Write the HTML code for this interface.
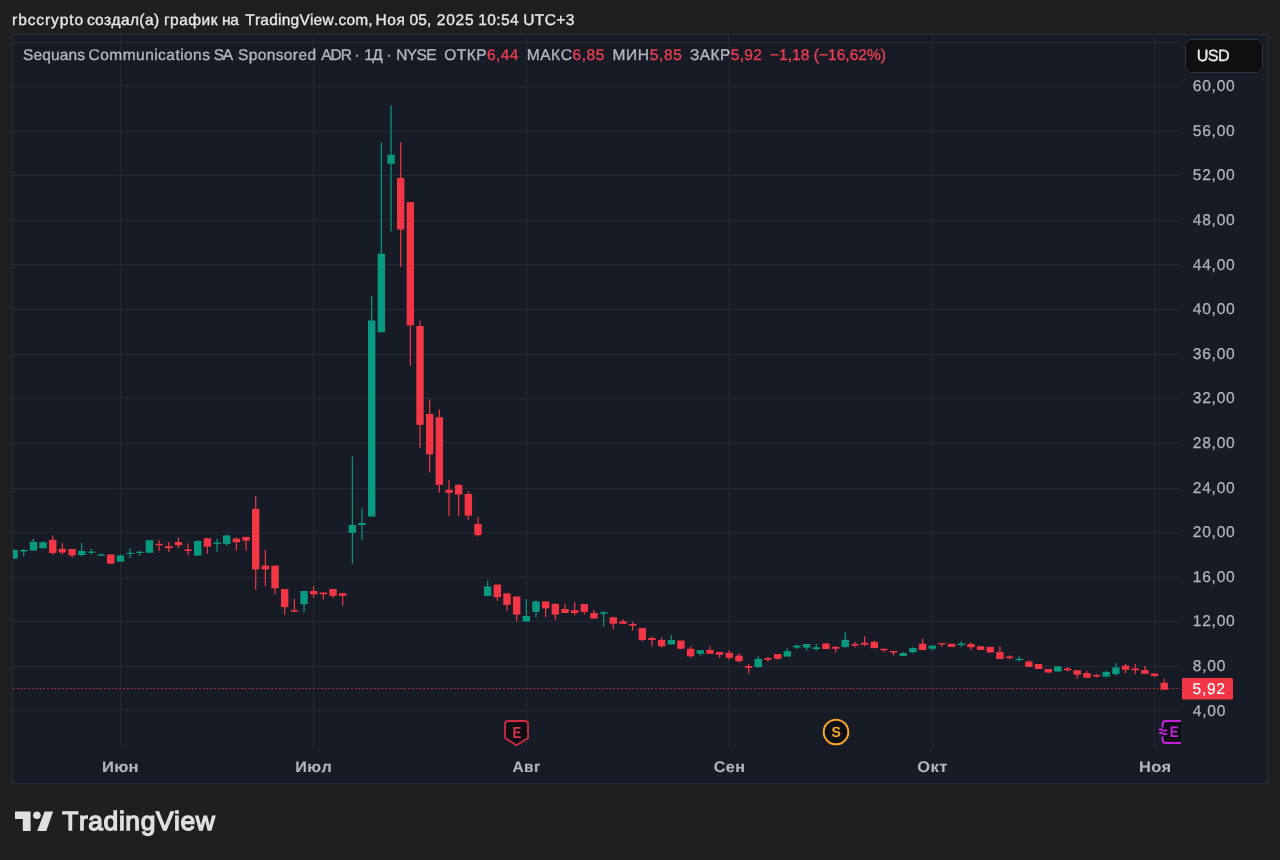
<!DOCTYPE html>
<html><head><meta charset="utf-8"><style>
html,body{margin:0;padding:0;background:#1f1f1f;}
body{width:1280px;height:860px;overflow:hidden;position:relative;}
svg{position:absolute;left:0;top:0;display:block;}
text{font-family:"Liberation Sans","Noto Sans CJK SC",sans-serif;font-kerning:none;text-rendering:geometricPrecision;}
</style></head><body>
<svg width="1280" height="860" viewBox="0 0 1280 860">
<rect x="0" y="0" width="1280" height="860" fill="#1f1f1f"/>
<text x="12.10" y="25.3" font-size="15.5" letter-spacing="0.910" fill="#e6e6e6" stroke="#e6e6e6" stroke-width="0.35" >rbccrypto</text>
<text x="86.90" y="25.3" font-size="15.5" letter-spacing="0.379" fill="#e6e6e6" stroke="#e6e6e6" stroke-width="0.35" >создал(а)</text>
<text x="163.90" y="25.3" font-size="15.5" letter-spacing="0.499" fill="#e6e6e6" stroke="#e6e6e6" stroke-width="0.35" >график</text>
<text x="222.00" y="25.3" font-size="15.5" letter-spacing="-0.409" fill="#e6e6e6" stroke="#e6e6e6" stroke-width="0.35" >на</text>
<text x="245.30" y="25.3" font-size="15.5" letter-spacing="0.221" fill="#e6e6e6" stroke="#e6e6e6" stroke-width="0.35" >TradingView.com,</text>
<text x="375.60" y="25.3" font-size="15.5" letter-spacing="0.518" fill="#e6e6e6" stroke="#e6e6e6" stroke-width="0.35" >Ноя</text>
<text x="409.40" y="25.3" font-size="15.5" letter-spacing="0.230" fill="#e6e6e6" stroke="#e6e6e6" stroke-width="0.35" >05,</text>
<text x="436.70" y="25.3" font-size="15.5" letter-spacing="0.846" fill="#e6e6e6" stroke="#e6e6e6" stroke-width="0.35" >2025</text>
<text x="478.20" y="25.3" font-size="15.5" letter-spacing="0.383" fill="#e6e6e6" stroke="#e6e6e6" stroke-width="0.35" >10:54</text>
<text x="523.20" y="25.3" font-size="15.5" letter-spacing="0.436" fill="#e6e6e6" stroke="#e6e6e6" stroke-width="0.35" >UTC+3</text>
<rect x="12.5" y="34.5" width="1255" height="749" fill="#171b26" stroke="#2a2c31" stroke-width="1"/>
<g stroke="#242835" stroke-width="1" shape-rendering="crispEdges">
<line x1="13" y1="710.5" x2="1180" y2="710.5"/><line x1="13" y1="666.5" x2="1180" y2="666.5"/><line x1="13" y1="621.5" x2="1180" y2="621.5"/><line x1="13" y1="577.5" x2="1180" y2="577.5"/><line x1="13" y1="532.5" x2="1180" y2="532.5"/><line x1="13" y1="488.5" x2="1180" y2="488.5"/><line x1="13" y1="443.5" x2="1180" y2="443.5"/><line x1="13" y1="398.5" x2="1180" y2="398.5"/><line x1="13" y1="354.5" x2="1180" y2="354.5"/><line x1="13" y1="309.5" x2="1180" y2="309.5"/><line x1="13" y1="264.5" x2="1180" y2="264.5"/><line x1="13" y1="220.5" x2="1180" y2="220.5"/><line x1="13" y1="175.5" x2="1180" y2="175.5"/><line x1="13" y1="131.5" x2="1180" y2="131.5"/><line x1="13" y1="86.5" x2="1180" y2="86.5"/><line x1="13" y1="42.5" x2="1180" y2="42.5"/>
</g>
<g stroke="#242835" stroke-width="1.1">
<line x1="120.5" y1="35" x2="120.5" y2="748"/><line x1="313.5" y1="35" x2="313.5" y2="748"/><line x1="526.2" y1="35" x2="526.2" y2="748"/><line x1="728.9" y1="35" x2="728.9" y2="748"/><line x1="932.9" y1="35" x2="932.9" y2="748"/><line x1="1154.6" y1="35" x2="1154.6" y2="748"/>
</g>
<line x1="13" y1="688.5" x2="1180" y2="688.5" stroke="#f23645" stroke-width="1" stroke-dasharray="1.5 2.3" stroke-opacity="0.8"/>
<defs><clipPath id="pc"><rect x="13" y="35" width="1167" height="713"/></clipPath></defs>
<g clip-path="url(#pc)">
<rect x="13.49" y="549.00" width="1.2" height="10.00" fill="#089981"/><rect x="10.39" y="550.00" width="7.4" height="8.60" fill="#089981"/><rect x="23.15" y="549.00" width="1.2" height="7.50" fill="#089981"/><rect x="20.05" y="550.00" width="7.4" height="1.50" fill="#089981"/><rect x="32.82" y="538.80" width="1.2" height="11.70" fill="#089981"/><rect x="29.72" y="541.80" width="7.4" height="8.70" fill="#089981"/><rect x="42.48" y="541.30" width="1.2" height="6.90" fill="#089981"/><rect x="39.38" y="542.30" width="7.4" height="5.90" fill="#089981"/><rect x="52.15" y="535.70" width="1.2" height="18.80" fill="#f23645"/><rect x="49.05" y="539.80" width="7.4" height="13.20" fill="#f23645"/><rect x="61.81" y="543.10" width="1.2" height="11.40" fill="#f23645"/><rect x="58.71" y="548.90" width="7.4" height="3.60" fill="#f23645"/><rect x="71.48" y="549.00" width="1.2" height="8.60" fill="#f23645"/><rect x="68.38" y="549.00" width="7.4" height="6.50" fill="#f23645"/><rect x="81.14" y="543.10" width="1.2" height="13.40" fill="#089981"/><rect x="78.04" y="551.00" width="7.4" height="4.00" fill="#089981"/><rect x="90.81" y="549.00" width="1.2" height="5.50" fill="#089981"/><rect x="87.70" y="551.60" width="7.4" height="1.20" fill="#089981"/><rect x="100.47" y="553.50" width="1.2" height="2.50" fill="#089981"/><rect x="97.37" y="554.40" width="7.4" height="1.20" fill="#089981"/><rect x="110.14" y="554.50" width="1.2" height="9.20" fill="#f23645"/><rect x="107.04" y="554.50" width="7.4" height="9.20" fill="#f23645"/><rect x="119.80" y="554.50" width="1.2" height="7.10" fill="#089981"/><rect x="116.70" y="555.50" width="7.4" height="6.10" fill="#089981"/><rect x="129.47" y="548.60" width="1.2" height="9.40" fill="#089981"/><rect x="126.36" y="552.70" width="7.4" height="1.20" fill="#089981"/><rect x="139.13" y="551.00" width="1.2" height="4.60" fill="#089981"/><rect x="136.03" y="551.80" width="7.4" height="1.20" fill="#089981"/><rect x="148.80" y="540.20" width="1.2" height="12.60" fill="#089981"/><rect x="145.70" y="540.20" width="7.4" height="12.60" fill="#089981"/><rect x="158.46" y="540.20" width="1.2" height="10.80" fill="#f23645"/><rect x="155.36" y="543.90" width="7.4" height="1.40" fill="#f23645"/><rect x="168.12" y="542.00" width="1.2" height="9.90" fill="#f23645"/><rect x="165.03" y="546.20" width="7.4" height="1.90" fill="#f23645"/><rect x="177.79" y="537.30" width="1.2" height="10.80" fill="#f23645"/><rect x="174.69" y="542.00" width="7.4" height="3.30" fill="#f23645"/><rect x="187.46" y="543.40" width="1.2" height="11.80" fill="#f23645"/><rect x="184.36" y="549.50" width="7.4" height="1.50" fill="#f23645"/><rect x="197.12" y="540.20" width="1.2" height="15.40" fill="#089981"/><rect x="194.02" y="541.10" width="7.4" height="14.50" fill="#089981"/><rect x="206.78" y="537.80" width="1.2" height="15.95" fill="#f23645"/><rect x="203.69" y="538.30" width="7.4" height="8.40" fill="#f23645"/><rect x="216.45" y="538.75" width="1.2" height="13.15" fill="#089981"/><rect x="213.35" y="542.50" width="7.4" height="1.40" fill="#089981"/><rect x="226.12" y="534.50" width="1.2" height="11.30" fill="#089981"/><rect x="223.02" y="535.50" width="7.4" height="8.40" fill="#089981"/><rect x="235.78" y="537.50" width="1.2" height="13.00" fill="#f23645"/><rect x="232.68" y="538.60" width="7.4" height="3.70" fill="#f23645"/><rect x="245.44" y="536.90" width="1.2" height="13.60" fill="#f23645"/><rect x="242.34" y="536.90" width="7.4" height="3.70" fill="#f23645"/><rect x="255.11" y="496.00" width="1.2" height="93.80" fill="#f23645"/><rect x="252.01" y="508.90" width="7.4" height="60.50" fill="#f23645"/><rect x="264.77" y="549.70" width="1.2" height="36.30" fill="#f23645"/><rect x="261.68" y="565.60" width="7.4" height="3.80" fill="#f23645"/><rect x="274.44" y="565.60" width="1.2" height="28.70" fill="#f23645"/><rect x="271.34" y="565.60" width="7.4" height="22.70" fill="#f23645"/><rect x="284.10" y="589.00" width="1.2" height="25.70" fill="#f23645"/><rect x="281.00" y="589.00" width="7.4" height="18.10" fill="#f23645"/><rect x="293.77" y="598.80" width="1.2" height="12.90" fill="#f23645"/><rect x="290.67" y="610.20" width="7.4" height="1.50" fill="#f23645"/><rect x="303.43" y="591.00" width="1.2" height="21.40" fill="#089981"/><rect x="300.33" y="591.00" width="7.4" height="13.10" fill="#089981"/><rect x="313.10" y="586.00" width="1.2" height="12.00" fill="#f23645"/><rect x="310.00" y="591.00" width="7.4" height="3.30" fill="#f23645"/><rect x="322.76" y="592.50" width="1.2" height="7.10" fill="#f23645"/><rect x="319.67" y="592.50" width="7.4" height="1.80" fill="#f23645"/><rect x="332.43" y="589.00" width="1.2" height="9.00" fill="#f23645"/><rect x="329.33" y="589.00" width="7.4" height="6.80" fill="#f23645"/><rect x="342.09" y="592.80" width="1.2" height="12.80" fill="#f23645"/><rect x="339.00" y="593.20" width="7.4" height="2.60" fill="#f23645"/><rect x="351.76" y="456.30" width="1.2" height="107.40" fill="#089981"/><rect x="348.66" y="525.00" width="7.4" height="7.80" fill="#089981"/><rect x="361.42" y="508.40" width="1.2" height="31.70" fill="#089981"/><rect x="358.32" y="523.00" width="7.4" height="2.00" fill="#089981"/><rect x="371.09" y="296.00" width="1.2" height="220.60" fill="#089981"/><rect x="367.99" y="320.50" width="7.4" height="196.10" fill="#089981"/><rect x="380.75" y="142.40" width="1.2" height="189.90" fill="#089981"/><rect x="377.66" y="253.70" width="7.4" height="78.60" fill="#089981"/><rect x="390.42" y="105.50" width="1.2" height="125.90" fill="#089981"/><rect x="387.32" y="154.70" width="7.4" height="9.10" fill="#089981"/><rect x="400.08" y="142.40" width="1.2" height="124.60" fill="#f23645"/><rect x="396.98" y="178.00" width="7.4" height="51.60" fill="#f23645"/><rect x="409.75" y="202.10" width="1.2" height="163.70" fill="#f23645"/><rect x="406.65" y="202.10" width="7.4" height="123.20" fill="#f23645"/><rect x="419.41" y="320.50" width="1.2" height="127.40" fill="#f23645"/><rect x="416.31" y="326.00" width="7.4" height="98.90" fill="#f23645"/><rect x="429.08" y="399.30" width="1.2" height="73.00" fill="#f23645"/><rect x="425.98" y="414.00" width="7.4" height="40.20" fill="#f23645"/><rect x="438.75" y="409.30" width="1.2" height="83.30" fill="#f23645"/><rect x="435.65" y="417.20" width="7.4" height="67.70" fill="#f23645"/><rect x="448.41" y="480.00" width="1.2" height="36.30" fill="#f23645"/><rect x="445.31" y="489.80" width="7.4" height="3.00" fill="#f23645"/><rect x="458.07" y="484.20" width="1.2" height="32.10" fill="#f23645"/><rect x="454.97" y="484.90" width="7.4" height="9.70" fill="#f23645"/><rect x="467.74" y="491.20" width="1.2" height="28.60" fill="#f23645"/><rect x="464.64" y="494.00" width="7.4" height="21.60" fill="#f23645"/><rect x="477.40" y="517.00" width="1.2" height="19.50" fill="#f23645"/><rect x="474.31" y="524.00" width="7.4" height="11.10" fill="#f23645"/><rect x="487.07" y="580.50" width="1.2" height="16.00" fill="#089981"/><rect x="483.97" y="586.50" width="7.4" height="9.30" fill="#089981"/><rect x="496.73" y="584.60" width="1.2" height="16.10" fill="#f23645"/><rect x="493.63" y="584.60" width="7.4" height="12.60" fill="#f23645"/><rect x="506.40" y="593.40" width="1.2" height="17.10" fill="#f23645"/><rect x="503.30" y="593.40" width="7.4" height="11.50" fill="#f23645"/><rect x="516.06" y="596.50" width="1.2" height="25.10" fill="#f23645"/><rect x="512.96" y="596.50" width="7.4" height="18.10" fill="#f23645"/><rect x="525.73" y="599.30" width="1.2" height="22.30" fill="#089981"/><rect x="522.63" y="616.00" width="7.4" height="5.60" fill="#089981"/><rect x="535.39" y="600.40" width="1.2" height="17.00" fill="#089981"/><rect x="532.29" y="601.40" width="7.4" height="10.50" fill="#089981"/><rect x="545.06" y="601.40" width="1.2" height="16.00" fill="#f23645"/><rect x="541.96" y="601.40" width="7.4" height="7.00" fill="#f23645"/><rect x="554.72" y="603.80" width="1.2" height="16.40" fill="#f23645"/><rect x="551.62" y="603.80" width="7.4" height="10.80" fill="#f23645"/><rect x="564.39" y="603.80" width="1.2" height="9.20" fill="#f23645"/><rect x="561.29" y="609.00" width="7.4" height="4.00" fill="#f23645"/><rect x="574.05" y="602.00" width="1.2" height="13.30" fill="#f23645"/><rect x="570.95" y="610.20" width="7.4" height="2.80" fill="#f23645"/><rect x="583.72" y="604.00" width="1.2" height="10.40" fill="#f23645"/><rect x="580.62" y="604.00" width="7.4" height="7.90" fill="#f23645"/><rect x="593.38" y="610.00" width="1.2" height="8.50" fill="#f23645"/><rect x="590.28" y="613.10" width="7.4" height="5.40" fill="#f23645"/><rect x="603.05" y="611.25" width="1.2" height="15.00" fill="#089981"/><rect x="599.95" y="612.25" width="7.4" height="1.50" fill="#089981"/><rect x="612.71" y="617.25" width="1.2" height="12.15" fill="#f23645"/><rect x="609.61" y="617.25" width="7.4" height="6.50" fill="#f23645"/><rect x="622.38" y="619.40" width="1.2" height="4.35" fill="#f23645"/><rect x="619.28" y="621.25" width="7.4" height="2.50" fill="#f23645"/><rect x="632.04" y="621.90" width="1.2" height="8.70" fill="#f23645"/><rect x="628.94" y="624.00" width="7.4" height="1.60" fill="#f23645"/><rect x="641.71" y="628.10" width="1.2" height="13.15" fill="#f23645"/><rect x="638.61" y="628.10" width="7.4" height="11.90" fill="#f23645"/><rect x="651.37" y="636.25" width="1.2" height="10.00" fill="#f23645"/><rect x="648.27" y="638.00" width="7.4" height="2.00" fill="#f23645"/><rect x="661.04" y="637.25" width="1.2" height="10.50" fill="#f23645"/><rect x="657.94" y="640.00" width="7.4" height="6.25" fill="#f23645"/><rect x="670.70" y="635.00" width="1.2" height="9.40" fill="#089981"/><rect x="667.60" y="640.00" width="7.4" height="4.40" fill="#089981"/><rect x="680.37" y="640.60" width="1.2" height="8.15" fill="#f23645"/><rect x="677.27" y="640.60" width="7.4" height="8.15" fill="#f23645"/><rect x="690.03" y="646.25" width="1.2" height="11.85" fill="#f23645"/><rect x="686.93" y="648.75" width="7.4" height="7.50" fill="#f23645"/><rect x="699.70" y="650.25" width="1.2" height="5.35" fill="#089981"/><rect x="696.60" y="650.25" width="7.4" height="3.50" fill="#089981"/><rect x="709.36" y="646.25" width="1.2" height="7.50" fill="#f23645"/><rect x="706.26" y="650.00" width="7.4" height="3.75" fill="#f23645"/><rect x="719.03" y="651.90" width="1.2" height="6.20" fill="#f23645"/><rect x="715.93" y="651.90" width="7.4" height="2.85" fill="#f23645"/><rect x="728.69" y="650.30" width="1.2" height="9.40" fill="#f23645"/><rect x="725.59" y="652.80" width="7.4" height="5.00" fill="#f23645"/><rect x="738.36" y="653.10" width="1.2" height="9.15" fill="#f23645"/><rect x="735.26" y="655.60" width="7.4" height="5.65" fill="#f23645"/><rect x="748.02" y="664.00" width="1.2" height="9.75" fill="#f23645"/><rect x="744.92" y="666.00" width="7.4" height="1.75" fill="#f23645"/><rect x="757.69" y="656.25" width="1.2" height="11.00" fill="#089981"/><rect x="754.59" y="658.75" width="7.4" height="8.50" fill="#089981"/><rect x="767.35" y="656.90" width="1.2" height="5.00" fill="#f23645"/><rect x="764.25" y="658.10" width="7.4" height="1.65" fill="#f23645"/><rect x="777.02" y="654.00" width="1.2" height="5.75" fill="#f23645"/><rect x="773.92" y="654.00" width="7.4" height="4.75" fill="#f23645"/><rect x="786.68" y="648.10" width="1.2" height="8.40" fill="#089981"/><rect x="783.58" y="651.25" width="7.4" height="5.25" fill="#089981"/><rect x="796.35" y="644.40" width="1.2" height="4.60" fill="#089981"/><rect x="793.25" y="645.60" width="7.4" height="1.90" fill="#089981"/><rect x="806.01" y="644.00" width="1.2" height="6.60" fill="#089981"/><rect x="802.91" y="644.00" width="7.4" height="3.50" fill="#089981"/><rect x="815.68" y="643.75" width="1.2" height="6.85" fill="#089981"/><rect x="812.58" y="647.25" width="7.4" height="1.75" fill="#089981"/><rect x="825.34" y="643.50" width="1.2" height="5.50" fill="#f23645"/><rect x="822.24" y="643.50" width="7.4" height="5.50" fill="#f23645"/><rect x="835.01" y="646.25" width="1.2" height="6.25" fill="#f23645"/><rect x="831.91" y="646.90" width="7.4" height="1.85" fill="#f23645"/><rect x="844.67" y="632.25" width="1.2" height="15.50" fill="#089981"/><rect x="841.57" y="640.00" width="7.4" height="6.90" fill="#089981"/><rect x="854.34" y="641.90" width="1.2" height="5.60" fill="#f23645"/><rect x="851.24" y="644.00" width="7.4" height="1.60" fill="#f23645"/><rect x="864.00" y="636.25" width="1.2" height="10.00" fill="#f23645"/><rect x="860.90" y="642.75" width="7.4" height="2.00" fill="#f23645"/><rect x="873.67" y="640.60" width="1.2" height="7.50" fill="#f23645"/><rect x="870.57" y="641.90" width="7.4" height="6.20" fill="#f23645"/><rect x="883.33" y="648.75" width="1.2" height="3.50" fill="#f23645"/><rect x="880.23" y="648.75" width="7.4" height="1.50" fill="#f23645"/><rect x="893.00" y="651.00" width="1.2" height="4.60" fill="#f23645"/><rect x="889.90" y="651.00" width="7.4" height="1.50" fill="#f23645"/><rect x="902.66" y="652.25" width="1.2" height="3.75" fill="#089981"/><rect x="899.56" y="653.10" width="7.4" height="2.90" fill="#089981"/><rect x="912.33" y="647.25" width="1.2" height="5.85" fill="#089981"/><rect x="909.23" y="648.10" width="7.4" height="4.15" fill="#089981"/><rect x="921.99" y="638.50" width="1.2" height="11.50" fill="#f23645"/><rect x="918.89" y="643.75" width="7.4" height="6.25" fill="#f23645"/><rect x="931.66" y="645.60" width="1.2" height="5.00" fill="#089981"/><rect x="928.56" y="645.60" width="7.4" height="3.15" fill="#089981"/><rect x="941.32" y="643.10" width="1.2" height="3.80" fill="#f23645"/><rect x="938.22" y="643.10" width="7.4" height="1.30" fill="#f23645"/><rect x="950.99" y="643.75" width="1.2" height="3.15" fill="#f23645"/><rect x="947.89" y="643.75" width="7.4" height="3.15" fill="#f23645"/><rect x="960.65" y="641.25" width="1.2" height="5.65" fill="#089981"/><rect x="957.55" y="643.50" width="7.4" height="1.50" fill="#089981"/><rect x="970.32" y="642.25" width="1.2" height="7.75" fill="#f23645"/><rect x="967.22" y="644.00" width="7.4" height="3.25" fill="#f23645"/><rect x="979.98" y="646.25" width="1.2" height="3.75" fill="#f23645"/><rect x="976.88" y="646.25" width="7.4" height="3.75" fill="#f23645"/><rect x="989.65" y="646.90" width="1.2" height="5.60" fill="#f23645"/><rect x="986.55" y="646.90" width="7.4" height="5.60" fill="#f23645"/><rect x="999.31" y="646.25" width="1.2" height="12.75" fill="#f23645"/><rect x="996.21" y="651.90" width="7.4" height="7.10" fill="#f23645"/><rect x="1008.98" y="655.25" width="1.2" height="4.15" fill="#f23645"/><rect x="1005.88" y="656.50" width="7.4" height="1.60" fill="#f23645"/><rect x="1018.64" y="656.25" width="1.2" height="5.00" fill="#089981"/><rect x="1015.54" y="658.75" width="7.4" height="1.50" fill="#089981"/><rect x="1028.31" y="660.00" width="1.2" height="6.90" fill="#f23645"/><rect x="1025.21" y="661.50" width="7.4" height="5.40" fill="#f23645"/><rect x="1037.98" y="664.00" width="1.2" height="5.00" fill="#f23645"/><rect x="1034.88" y="664.00" width="7.4" height="5.00" fill="#f23645"/><rect x="1047.64" y="669.00" width="1.2" height="4.10" fill="#f23645"/><rect x="1044.54" y="669.00" width="7.4" height="3.50" fill="#f23645"/><rect x="1057.31" y="666.25" width="1.2" height="5.25" fill="#089981"/><rect x="1054.20" y="666.25" width="7.4" height="5.25" fill="#089981"/><rect x="1066.97" y="666.90" width="1.2" height="4.35" fill="#f23645"/><rect x="1063.87" y="668.50" width="7.4" height="1.75" fill="#f23645"/><rect x="1076.63" y="670.25" width="1.2" height="8.50" fill="#f23645"/><rect x="1073.53" y="670.25" width="7.4" height="4.50" fill="#f23645"/><rect x="1086.30" y="671.00" width="1.2" height="6.75" fill="#f23645"/><rect x="1083.20" y="673.10" width="7.4" height="4.65" fill="#f23645"/><rect x="1095.97" y="673.75" width="1.2" height="3.75" fill="#f23645"/><rect x="1092.87" y="675.00" width="7.4" height="1.50" fill="#f23645"/><rect x="1105.63" y="670.60" width="1.2" height="6.90" fill="#089981"/><rect x="1102.53" y="671.90" width="7.4" height="4.60" fill="#089981"/><rect x="1115.30" y="662.75" width="1.2" height="12.85" fill="#089981"/><rect x="1112.19" y="667.50" width="7.4" height="6.50" fill="#089981"/><rect x="1124.96" y="664.00" width="1.2" height="9.10" fill="#f23645"/><rect x="1121.86" y="665.60" width="7.4" height="4.15" fill="#f23645"/><rect x="1134.62" y="664.00" width="1.2" height="10.00" fill="#f23645"/><rect x="1131.52" y="668.50" width="7.4" height="1.75" fill="#f23645"/><rect x="1144.29" y="666.00" width="1.2" height="7.75" fill="#f23645"/><rect x="1141.19" y="670.00" width="7.4" height="3.75" fill="#f23645"/><rect x="1153.96" y="673.50" width="1.2" height="3.75" fill="#f23645"/><rect x="1150.86" y="673.50" width="7.4" height="2.50" fill="#f23645"/><rect x="1163.62" y="678.50" width="1.2" height="11.25" fill="#f23645"/><rect x="1160.52" y="682.75" width="7.4" height="7.00" fill="#f23645"/>
</g>
<g>
<text x="23.05" y="60" font-size="15.5" letter-spacing="0.118" fill="#b2b5be" stroke="#b2b5be" stroke-width="0.35" >Sequans</text>
<text x="88.60" y="60" font-size="15.5" letter-spacing="0.455" fill="#b2b5be" stroke="#b2b5be" stroke-width="0.35" >Communications</text>
<text x="213.70" y="60" font-size="15.5" letter-spacing="-1.239" fill="#b2b5be" stroke="#b2b5be" stroke-width="0.35" >SA</text>
<text x="238.05" y="60" font-size="15.5" letter-spacing="0.375" fill="#b2b5be" stroke="#b2b5be" stroke-width="0.35" >Sponsored</text>
<text x="321.25" y="60" font-size="15.5" letter-spacing="-1.016" fill="#b2b5be" stroke="#b2b5be" stroke-width="0.35" >ADR</text>
<text x="354.45" y="60" font-size="15.5" letter-spacing="0.000" fill="#b2b5be" stroke="#b2b5be" stroke-width="0.35" >·</text>
<text x="364.30" y="60" font-size="15.5" letter-spacing="-0.620" fill="#b2b5be" stroke="#b2b5be" stroke-width="0.35" >1Д</text>
<text x="386.20" y="60" font-size="15.5" letter-spacing="0.000" fill="#b2b5be" stroke="#b2b5be" stroke-width="0.35" >·</text>
<text x="396.20" y="60" font-size="15.5" letter-spacing="-0.591" fill="#b2b5be" stroke="#b2b5be" stroke-width="0.35" >NYSE</text>
<text x="444.30" y="60" font-size="15.5" letter-spacing="0.437" fill="#b2b5be" stroke="#b2b5be" stroke-width="0.35">ОТКР<tspan fill="#ec3d52" stroke="#ec3d52">6,44</tspan></text>
<text x="526.70" y="60" font-size="15.5" letter-spacing="0.576" fill="#b2b5be" stroke="#b2b5be" stroke-width="0.35">МАКС<tspan fill="#ec3d52" stroke="#ec3d52">6,85</tspan></text>
<text x="612.45" y="60" font-size="15.5" letter-spacing="0.668" fill="#b2b5be" stroke="#b2b5be" stroke-width="0.35">МИН<tspan fill="#ec3d52" stroke="#ec3d52">5,85</tspan></text>
<text x="690.00" y="60" font-size="15.5" letter-spacing="0.390" fill="#b2b5be" stroke="#b2b5be" stroke-width="0.35">ЗАКР<tspan fill="#ec3d52" stroke="#ec3d52">5,92</tspan></text>
<text x="769.95" y="60" font-size="15.5" letter-spacing="0.039" fill="#ec3d52" stroke="#ec3d52" stroke-width="0.35" >−1,18 (−16,62%)</text>
</g>
<rect x="1185.5" y="39.5" width="77" height="33" rx="6" fill="#0f0f0f" stroke="#34363c" stroke-width="1"/>
<text x="1196.80" y="61.3" font-size="16.2" letter-spacing="-0.652" fill="#ececec" stroke="#ececec" stroke-width="0.35" >USD</text>
<g fill="#b2b5be">
<text x="1192.80" y="715.5" font-size="15.6" letter-spacing="0.734" stroke="#b2b5be" stroke-width="0.25">4,00</text>
<text x="1192.80" y="670.9" font-size="15.6" letter-spacing="0.734" stroke="#b2b5be" stroke-width="0.25">8,00</text>
<text x="1192.80" y="626.3" font-size="15.6" letter-spacing="0.734" stroke="#b2b5be" stroke-width="0.25">12,00</text>
<text x="1192.80" y="581.7" font-size="15.6" letter-spacing="0.734" stroke="#b2b5be" stroke-width="0.25">16,00</text>
<text x="1192.80" y="537.1" font-size="15.6" letter-spacing="0.734" stroke="#b2b5be" stroke-width="0.25">20,00</text>
<text x="1192.80" y="492.5" font-size="15.6" letter-spacing="0.734" stroke="#b2b5be" stroke-width="0.25">24,00</text>
<text x="1192.80" y="447.9" font-size="15.6" letter-spacing="0.734" stroke="#b2b5be" stroke-width="0.25">28,00</text>
<text x="1192.80" y="403.3" font-size="15.6" letter-spacing="0.734" stroke="#b2b5be" stroke-width="0.25">32,00</text>
<text x="1192.80" y="358.7" font-size="15.6" letter-spacing="0.734" stroke="#b2b5be" stroke-width="0.25">36,00</text>
<text x="1192.80" y="314.1" font-size="15.6" letter-spacing="0.734" stroke="#b2b5be" stroke-width="0.25">40,00</text>
<text x="1192.80" y="269.5" font-size="15.6" letter-spacing="0.734" stroke="#b2b5be" stroke-width="0.25">44,00</text>
<text x="1192.80" y="224.9" font-size="15.6" letter-spacing="0.734" stroke="#b2b5be" stroke-width="0.25">48,00</text>
<text x="1192.80" y="180.3" font-size="15.6" letter-spacing="0.734" stroke="#b2b5be" stroke-width="0.25">52,00</text>
<text x="1192.80" y="135.7" font-size="15.6" letter-spacing="0.734" stroke="#b2b5be" stroke-width="0.25">56,00</text>
<text x="1192.80" y="91.1" font-size="15.6" letter-spacing="0.734" stroke="#b2b5be" stroke-width="0.25">60,00</text>
</g>
<rect x="1182" y="678" width="51" height="21.6" rx="1.5" fill="#f23645"/>
<text x="1192.60" y="694.0" font-size="15.6" letter-spacing="0.671" fill="#ffffff" stroke="#ffffff" stroke-width="0.15" >5,92</text>
<g>
<text transform="translate(103.00 772) scale(1.0828 1)" x="-1.00" y="0" font-size="15.3" letter-spacing="0.3" font-weight="bold" fill="#b2b5be" stroke="#b2b5be" stroke-width="0.1">Июн</text>
<text transform="translate(296.30 772) scale(1.0599 1)" x="-1.00" y="0" font-size="15.3" letter-spacing="0.3" font-weight="bold" fill="#b2b5be" stroke="#b2b5be" stroke-width="0.1">Июл</text>
<text transform="translate(513.00 772) scale(1.0130 1)" x="-0.40" y="0" font-size="15.3" letter-spacing="0.3" font-weight="bold" fill="#b2b5be" stroke="#b2b5be" stroke-width="0.1">Авг</text>
<text transform="translate(714.50 772) scale(1.0556 1)" x="-0.60" y="0" font-size="15.3" letter-spacing="0.3" font-weight="bold" fill="#b2b5be" stroke="#b2b5be" stroke-width="0.1">Сен</text>
<text transform="translate(918.00 772) scale(1.0803 1)" x="-0.60" y="0" font-size="15.3" letter-spacing="0.3" font-weight="bold" fill="#b2b5be" stroke="#b2b5be" stroke-width="0.1">Окт</text>
<text transform="translate(1140.00 772) scale(1.0755 1)" x="-1.00" y="0" font-size="15.3" letter-spacing="0.3" font-weight="bold" fill="#b2b5be" stroke="#b2b5be" stroke-width="0.1">Ноя</text>
</g>
<g>
<path d="M505 724 a3 3 0 0 1 3 -3 h17 a3 3 0 0 1 3 3 v14 l-11.5 7.3 l-11.5 -7.3 z" fill="#0e0f14" stroke="#cf2c44" stroke-width="1.8" stroke-linejoin="round"/>
<text transform="translate(516.7 737.6) scale(0.81 1)" x="0" y="0" font-size="16" font-weight="bold" fill="#dc354b" text-anchor="middle">E</text>
</g>
<g>
<circle cx="836" cy="732" r="12.3" fill="#0e0f14" stroke="#f5a431" stroke-width="2"/>
<text transform="translate(836.2 737.4) scale(0.95 1)" x="0" y="0" font-size="14.8" font-weight="bold" fill="#f5a431" text-anchor="middle">S</text>
</g>
<svg x="1150" y="715" width="31" height="35" viewBox="1150 715 31 35" overflow="hidden">
<path d="M1162.6 727.5 v-3.5 a3 3 0 0 1 3 -3 h20 a3 3 0 0 1 3 3 v16 a3 3 0 0 1 -3 3 h-20 a3 3 0 0 1 -3 -3 v-3.5" fill="#0e0f14" stroke="#c322d8" stroke-width="2"/>
<path d="M1159 730 q2 -1.5 4 0 t4 0 M1159 733.5 q2 -1.5 4 0 t4 0" fill="none" stroke="#c322d8" stroke-width="1.8"/>
<text transform="translate(1174 737.3) scale(0.85 1)" x="0" y="0" font-size="15.4" font-weight="bold" fill="#c322d8" text-anchor="middle">E</text>
</svg>
<g fill="#e0e0e0">
<path d="M15 811.6 H30.6 V831 H22.8 V819 H15 Z"/>
<circle cx="36.9" cy="815.3" r="3.8"/>
<path d="M44.6 811.6 H53.1 L46.3 831 H37.2 Z"/>
</g>
<text transform="translate(62.80 830.4) scale(1.0002 1)" x="-0.60" y="0" font-size="26.4" letter-spacing="0.6" fill="#e0e0e0" stroke="#e0e0e0" stroke-width="1.3">TradingView</text>
</svg>
</body></html>
